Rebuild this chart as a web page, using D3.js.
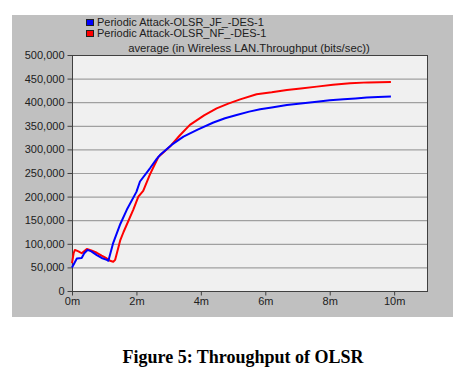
<!DOCTYPE html>
<html>
<head>
<meta charset="utf-8">
<script src="https://cdn.jsdelivr.net/npm/d3@7"></script>
<style>
  body { margin: 0; background: #fff; }
  text { font-family: "Liberation Sans", Arial, sans-serif; }
</style>
</head>
<body>
<svg width="466" height="375"></svg>
<script>
// series: time in minutes, throughput in bits/sec
const seriesNames = ["Periodic Attack-OLSR_JF_-DES-1", "Periodic Attack-OLSR_NF_-DES-1"];
const seriesColors = ["#0000ff", "#ff0000"];

const jfTime = [0, 0.08, 0.15, 0.3, 0.38, 0.48, 0.6, 0.77, 0.92, 1.08, 1.13, 1.28, 1.5, 1.7, 2.0, 2.11, 2.42, 2.63, 2.73, 3.1, 3.46, 3.9, 4.39, 4.75, 5.11, 5.5, 5.84, 6.2, 6.67, 7.1, 7.6, 8.0, 8.43, 8.8, 9.15, 9.5, 9.9];
const jfValue = [50000, 60000, 69000, 70000, 80000, 87000, 84000, 76000, 70000, 66000, 64000, 102000, 142000, 172000, 210000, 232000, 260000, 280000, 288000, 310000, 327000, 342000, 357000, 366000, 373000, 380000, 385000, 389000, 394000, 397000, 401000, 404000, 406000, 408000, 410000, 411000, 412000];

const nfTime = [0, 0.05, 0.09, 0.2, 0.3, 0.46, 0.6, 0.77, 0.92, 1.08, 1.18, 1.28, 1.34, 1.5, 1.6, 1.9, 2.06, 2.21, 2.42, 2.68, 3.04, 3.35, 3.66, 4.1, 4.49, 4.85, 5.22, 5.73, 6.2, 6.67, 7.1, 7.6, 8.1, 8.63, 9.2, 9.9];
const nfValue = [59000, 80000, 87000, 84000, 80000, 89000, 86000, 81000, 75000, 69000, 64000, 62000, 66000, 108000, 125000, 172000, 200000, 212000, 247000, 284000, 306000, 330000, 352000, 372000, 387000, 397000, 406000, 417000, 421000, 426000, 429000, 433000, 437000, 440000, 442000, 443000];

const yTicks = [0, 50000, 100000, 150000, 200000, 250000, 300000, 350000, 400000, 450000, 500000];
const xTicks = [0, 2, 4, 6, 8, 10];

const chartTitle = "average (in Wireless LAN.Throughput (bits/sec))";
const caption = "Figure 5: Throughput of OLSR";

const svg = d3.select("svg");

const margin = { top: 55, left: 72, right: 427, bottom: 291 };

// gray panel
svg.append("rect")
  .attr("x", 12).attr("y", 15)
  .attr("width", 441).attr("height", 302)
  .attr("fill", "#c0c0c0");

const xScale = d3.scaleLinear().domain([0, 11.02]).range([margin.left, margin.right]);
const yScale = d3.scaleLinear().domain([0, 500000]).range([margin.bottom, margin.top]);

// plot background
svg.append("rect")
  .attr("x", margin.left).attr("y", margin.top)
  .attr("width", margin.right - margin.left)
  .attr("height", margin.bottom - margin.top)
  .attr("fill", "#f0f0f0");

// grid
svg.append("g").selectAll("line").data(yTicks.slice(1, -1)).enter().append("line")
  .attr("x1", margin.left).attr("x2", margin.right)
  .attr("y1", d => yScale(d) + 0.5).attr("y2", d => yScale(d) + 0.5)
  .attr("stroke", "#a0a0a0").attr("stroke-width", 1.2);

// border
svg.append("rect")
  .attr("x", margin.left + 0.5).attr("y", margin.top + 0.5)
  .attr("width", margin.right - margin.left)
  .attr("height", margin.bottom - margin.top)
  .attr("fill", "none").attr("stroke", "#404040");

// axes
const yAxis = svg.append("g")
  .attr("transform", `translate(${margin.left + 0.5},0)`)
  .call(d3.axisLeft(yScale).tickValues(yTicks).tickFormat(d3.format(",")).tickSize(5).tickPadding(3));
const xAxis = svg.append("g")
  .attr("transform", `translate(0,${margin.bottom + 0.5})`)
  .call(d3.axisBottom(xScale).tickValues(xTicks).tickFormat(d => d + "m").tickSize(4).tickPadding(2));

[yAxis, xAxis].forEach(a => {
  a.select(".domain").remove();
  a.selectAll(".tick line").attr("stroke", "#404040");
  a.selectAll(".tick text")
    .attr("fill", "#202020")
    .style("font-family", "'Liberation Sans', Arial, sans-serif")
    .style("font-size", "11px");
});

// lines
const line = d3.line()
  .x(d => xScale(d[0]))
  .y(d => yScale(d[1]));

const series = [
  d3.zip(jfTime, jfValue),
  d3.zip(nfTime, nfValue)
];

// red drawn first, blue on top
svg.append("g").selectAll("path").data([series[1], series[0]]).enter().append("path")
  .attr("d", line)
  .attr("fill", "none")
  .attr("stroke", (d, i) => i === 0 ? seriesColors[1] : seriesColors[0])
  .attr("stroke-width", 2)
  .attr("stroke-linejoin", "round");

// title
svg.append("text")
  .attr("x", 249).attr("y", 52)
  .attr("text-anchor", "middle")
  .attr("font-size", "11.3px")
  .attr("fill", "#202020")
  .text(chartTitle);

// legend
const legend = svg.append("g").selectAll("g").data(seriesNames).enter().append("g")
  .attr("transform", (d, i) => `translate(86,${19 + i * 11})`);
legend.append("rect")
  .attr("x", 0.5).attr("y", 0.5)
  .attr("width", 7).attr("height", 6)
  .attr("fill", (d, i) => seriesColors[i])
  .attr("stroke", "#202020");
legend.append("text")
  .attr("x", 11).attr("y", 7)
  .attr("font-size", "11px")
  .attr("fill", "#202020")
  .text(d => d);

// caption
svg.append("text")
  .attr("x", 243).attr("y", 363)
  .attr("text-anchor", "middle")
  .style("font-family", "'Liberation Serif', 'Times New Roman', serif")
  .style("font-weight", "bold")
  .style("font-size", "18px")
  .text(caption);
</script>
</body>
</html>
